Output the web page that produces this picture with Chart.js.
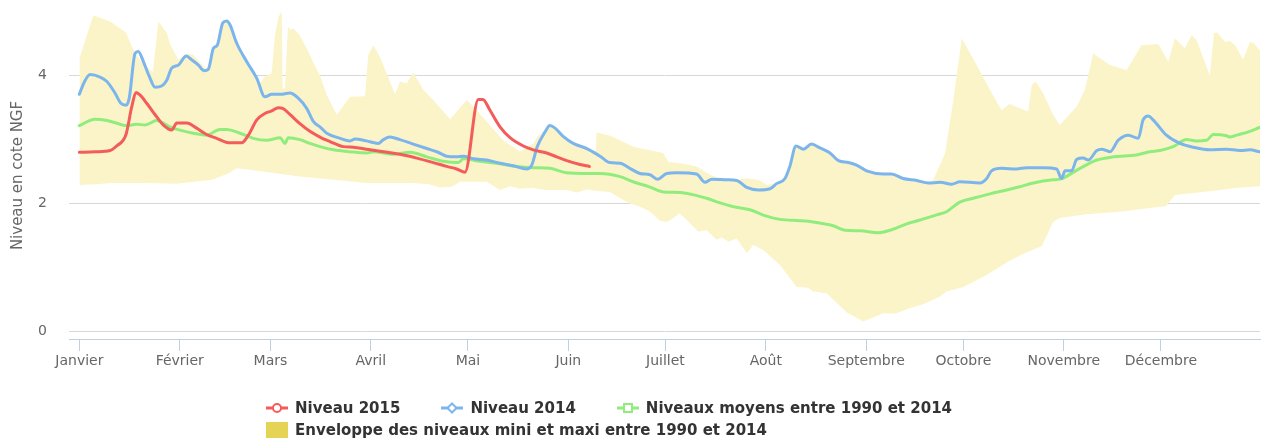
<!DOCTYPE html>
<html><head><meta charset="utf-8">
<script src="https://cdn.jsdelivr.net/npm/chart.js@4"></script>
<style>
html,body{margin:0;padding:0;background:#fff;}
#wrap{position:relative;width:1265px;height:441px;overflow:hidden;}
#c{position:absolute;left:0;top:0;}
#legend{position:absolute;left:266px;top:397px;font-family:"DejaVu Sans",sans-serif;font-weight:bold;font-size:15px;color:#333;}
.row{display:flex;align-items:center;height:22px;white-space:nowrap;}
.item{display:flex;align-items:center;margin-right:41px;}
.item svg{margin-right:7px;display:block;}
</style></head><body>
<div id="wrap"><canvas id="c" width="1265" height="441"></canvas><div id="legend"></div></div>
<script>
// ---- categories / ticks ----
const monthLabels = ['Janvier','Février','Mars','Avril','Mai','Juin','Juillet','Août','Septembre','Octobre','Novembre','Décembre'];
const monthStartDays = [0,31,59,90,120,151,181,212,243,273,304,334];
const yTickValues = [0,2,4];

// ---- Niveau 2015 ----
const days2015 = [0,5,9.5,11.5,14.4,16.2,17.5,18.7,20.8,23.4,25.9,28.5,30.1,33.2,36.2,39.3,42.4,46.5,50.1,52.2,54.8,57.3,59.4,61.4,62.8,65.1,68.1,71.2,74.3,77.4,81.5,84.6,88.7,93.9,99,104.2,109.3,113.4,116.5,119.1,123.2,124.6,126.8,129.9,133,137.1,140.2,144.3,147.4,150.5,154.6,157.5];
const level2015 = [2.80,2.81,2.83,2.90,3.08,3.52,3.74,3.70,3.57,3.39,3.23,3.15,3.26,3.26,3.18,3.08,3.02,2.95,2.95,3.07,3.31,3.41,3.45,3.50,3.49,3.39,3.25,3.13,3.04,2.97,2.89,2.88,2.85,2.81,2.77,2.71,2.64,2.58,2.54,2.49,3.63,3.63,3.46,3.20,3.03,2.90,2.84,2.79,2.73,2.67,2.61,2.58];

// ---- Niveau 2014 ----
const days2014 = [0,1.5,3.3,6.4,8.5,11,12.8,14.4,15.4,17.2,18.2,19.8,21.6,23.4,25.4,27,28.5,30.6,33,34.7,36.7,38.5,39.8,41.4,42.6,44.3,45.5,46.5,48.6,51.7,54.8,57.3,59.4,62,65,67.6,70.2,72.3,74.3,76.4,80.5,83.6,85.1,88.7,92.3,93.9,95.9,99,103.1,107.3,110.4,113.4,116.5,118.6,121.7,125.8,129.9,134,138.1,139.7,141.4,143.8,145.3,146.9,149.4,152.5,156.7,160.8,163.9,167,170,173.1,176.2,178.5,181.4,184.5,190.6,193.2,195.3,199.9,203,206.1,209.7,213.3,215.3,217.9,219.4,221.3,223.6,226.1,228.7,231.8,234.4,237.5,240,243.1,248.3,250.8,254.4,258.6,262.2,265.8,269.4,271.9,278.1,280.2,281.7,284.8,289.4,292.5,297.6,301.8,303.3,304.4,306.4,308,310,311.6,314.2,315.7,318.3,320.8,323.9,327,328.5,330.1,331.6,335.7,339.9,344,349.1,354.3,358.4,361.5,364.4];
const level2014 = [3.71,3.90,4.02,3.98,3.91,3.73,3.57,3.54,3.65,4.35,4.38,4.22,3.99,3.82,3.84,3.93,4.12,4.17,4.31,4.25,4.17,4.08,4.10,4.43,4.48,4.83,4.86,4.80,4.51,4.22,3.96,3.67,3.71,3.71,3.73,3.65,3.49,3.28,3.20,3.10,3.02,2.98,3.01,2.98,2.94,3.00,3.04,3.00,2.93,2.86,2.81,2.74,2.73,2.74,2.70,2.68,2.63,2.59,2.54,2.60,2.89,3.12,3.22,3.18,3.05,2.94,2.86,2.74,2.64,2.63,2.55,2.47,2.45,2.38,2.47,2.48,2.46,2.33,2.38,2.37,2.36,2.25,2.21,2.23,2.31,2.39,2.58,2.90,2.85,2.93,2.87,2.79,2.67,2.64,2.60,2.51,2.46,2.46,2.39,2.36,2.32,2.33,2.30,2.34,2.32,2.39,2.51,2.55,2.54,2.56,2.56,2.54,2.39,2.51,2.51,2.69,2.71,2.68,2.83,2.85,2.81,2.99,3.07,3.02,3.31,3.37,3.31,3.07,2.94,2.88,2.84,2.85,2.83,2.84,2.81];

// ---- Niveaux moyens 1990-2014 ----
const daysMean = [0,4.8,8.5,12.6,14.6,17.7,20.3,23.9,28,31.6,35.2,39.3,43.4,45.5,49.6,53.7,57.9,62,63.5,64.5,68.1,71.2,74.3,78.5,83.6,88.7,90.8,97,102.1,107.3,112.4,117,118.6,123.7,129.9,135,140.2,145.3,150.5,155.6,160.8,167,171,176,180.3,185.5,193.7,197.8,201.9,207.1,212.2,216.4,222.5,226.6,232.8,236.4,241.1,246.7,250.3,255.5,259.6,264.7,267.8,271.9,276,281.2,286.3,290.4,294.6,300.7,302.8,309,314.2,319.3,326.5,330.6,333.7,337.8,341.9,345,348.1,350.2,354.3,355.3,357.4,361.5,364.4];
const levelMean = [3.22,3.32,3.30,3.24,3.22,3.24,3.23,3.30,3.20,3.14,3.10,3.07,3.16,3.16,3.10,3.02,2.99,3.03,2.94,3.03,3.00,2.94,2.89,2.84,2.81,2.79,2.81,2.77,2.80,2.73,2.66,2.64,2.70,2.66,2.62,2.58,2.56,2.55,2.48,2.47,2.47,2.42,2.34,2.26,2.18,2.17,2.08,2.01,1.95,1.90,1.80,1.75,1.73,1.71,1.65,1.58,1.57,1.54,1.58,1.68,1.74,1.82,1.87,2.02,2.08,2.15,2.21,2.26,2.32,2.37,2.38,2.55,2.68,2.73,2.76,2.81,2.83,2.89,3.00,2.98,2.99,3.08,3.06,3.04,3.07,3.13,3.19];

// ---- Enveloppe maxi ----
const daysEnvMax = [0,4.3,9.5,14.4,16.7,19.8,22.7,24.4,27,28,30.6,33.2,35.2,37.3,39.3,41.4,42.6,44.3,45.5,46.5,48.6,51.7,54.8,55.8,57.3,59.4,60.4,61.5,62.5,62.8,63.5,64.4,65.3,66.1,68.1,71.2,72.3,74.3,76.4,79.5,83.6,88.2,89.2,90.8,92.8,97.5,99,101.1,103.1,106.2,109.3,114.5,119.6,121.7,125.8,130.9,136.1,140.2,141.4,143.8,145.3,146.9,149.4,152.5,156.7,159.5,159.7,163.9,167,171.1,180.3,181.9,185.5,190.6,194.7,197.8,203,206.1,209.7,212.3,215.3,217.9,219.4,221.3,223.6,226.1,228.7,231.8,234.4,237.5,240,243.1,248.3,250.8,254.4,258.6,262.2,263.7,267.3,269.9,272.5,277.1,281.2,284.8,287.2,293,294.1,295.4,297.6,300.7,302.8,308,310.5,313.1,318.3,323.4,328,333.2,336.3,338.3,341.4,343.5,345,349.1,350.4,351.4,353.8,355.3,356.9,359.4,361.5,362.5,364.6];
const envMax = [4.27,4.95,4.85,4.68,4.40,4.17,4.06,4.85,4.67,4.50,4.25,4.35,4.33,4.20,4.10,4.43,4.48,4.83,4.86,4.80,4.51,4.22,3.96,3.88,3.99,4.04,4.64,4.93,5.00,3.80,3.80,4.77,4.72,4.74,4.63,4.33,4.20,4.01,3.70,3.39,3.67,3.68,4.33,4.48,4.30,3.71,3.91,3.88,4.05,3.78,3.62,3.32,3.62,3.52,3.28,2.99,2.81,2.94,3.05,3.15,3.23,3.19,3.06,2.95,2.87,2.82,3.11,3.06,2.99,2.89,2.79,2.65,2.63,2.58,2.45,2.39,2.37,2.39,2.37,2.29,2.32,2.40,2.59,2.91,2.86,2.94,2.88,2.80,2.68,2.65,2.61,2.52,2.47,2.47,2.40,2.37,2.33,2.37,2.78,3.62,4.59,4.17,3.78,3.46,3.56,3.44,3.86,3.91,3.73,3.39,3.23,3.52,3.78,4.35,4.17,4.09,4.48,4.50,4.22,4.59,4.43,4.64,4.56,4.01,4.67,4.68,4.53,4.55,4.48,4.26,4.53,4.52,4.40];

// ---- Enveloppe mini ----
const daysEnvMin = [0,5,10,20,30,41,46,48.6,55,68,74.3,78.5,88.7,103,108,111.4,115,117.5,125.8,129.9,133,136,140,144,150.5,153.6,156.7,160.8,163.9,167,170,173.1,176.2,179.3,181.4,182.9,185.3,187.6,191.1,193.7,196.8,198.4,200.4,203,206.1,208.1,211.2,216.4,221.5,225.1,226.6,230.8,237,242.1,248.3,251.9,256.5,260.6,265.8,267.8,273,280.2,286.3,291.5,297.2,300.7,302.8,311,321.3,327.5,335.7,338.3,347,357.4,364.6];
const envMin = [2.29,2.30,2.32,2.32,2.31,2.37,2.47,2.55,2.51,2.42,2.39,2.37,2.32,2.32,2.30,2.25,2.26,2.34,2.34,2.21,2.27,2.23,2.24,2.21,2.21,2.17,2.22,2.19,2.18,2.08,2.00,1.95,1.87,1.73,1.71,1.75,1.84,1.74,1.56,1.58,1.43,1.47,1.40,1.45,1.22,1.35,1.27,1.03,0.69,0.68,0.62,0.59,0.29,0.15,0.28,0.27,0.36,0.42,0.54,0.62,0.69,0.88,1.07,1.21,1.33,1.71,1.77,1.83,1.87,1.91,1.96,2.13,2.18,2.24,2.27];

const seriesNames = ['Niveau 2015','Niveau 2014','Niveaux moyens entre 1990 et 2014','Enveloppe des niveaux mini et maxi entre 1990 et 2014'];
const seriesColors = ['#f45b5b','#7cb5ec','#90ed7d','#e4d354'];

const zip = (xs, ys) => xs.map((x, i) => ({x: x, y: ys[i]}));
const FONT = '"DejaVu Sans", sans-serif';

const lineDs = (name, color, xs, ys) => ({
  label: name, data: zip(xs, ys), borderColor: color, borderWidth: 3,
  pointRadius: 0, fill: false, cubicInterpolationMode: 'monotone', borderJoinStyle: 'round', borderCapStyle: 'round'
});

new Chart(document.getElementById('c'), {
  type: 'line',
  data: {
    datasets: [
      lineDs(seriesNames[0], seriesColors[0], days2015, level2015),
      lineDs(seriesNames[1], seriesColors[1], days2014, level2014),
      lineDs(seriesNames[2], seriesColors[2], daysMean, levelMean),
      { label: 'max', data: zip(daysEnvMax, envMax), borderWidth: 0, borderColor: 'rgba(0,0,0,0)',
        backgroundColor: '#fbf4c9', fill: '+1', pointRadius: 0, tension: 0 },
      { label: 'min', data: zip(daysEnvMin, envMin), borderWidth: 0, borderColor: 'rgba(0,0,0,0)',
        fill: false, pointRadius: 0, tension: 0 }
    ]
  },
  options: {
    responsive: false, animation: false, devicePixelRatio: 1,
    layout: { padding: { top: 12, right: 5, left: 0, bottom: 0 } },
    plugins: { legend: { display: false }, tooltip: { enabled: false } },
    scales: {
      x: {
        type: 'linear', min: -3.2, max: 364.6,
        afterBuildTicks: s => { s.ticks = monthStartDays.map(v => ({ value: v })); },
        afterFit: s => { s.height = 102; s.paddingLeft = 0; s.paddingRight = 0; },
        ticks: { autoSkip: false, maxRotation: 0, minRotation: 0, padding: 2, color: '#666',
          font: { family: FONT, size: 14 },
          callback: v => { const i = monthStartDays.indexOf(v); return i >= 0 ? monthLabels[i] : ''; } },
        grid: { drawOnChartArea: false, drawTicks: true, tickLength: 12, color: '#C0D0E0', lineWidth: 1 },
        border: { display: true, color: '#C0D0E0', width: 1 }
      },
      y: {
        min: -0.125, max: 5,
        afterBuildTicks: s => { s.ticks = yTickValues.map(v => ({ value: v })); },
        afterFit: s => { s.width = 69; s.paddingTop = 0; s.paddingBottom = 0; },
        ticks: { padding: 22, color: '#666', font: { family: FONT, size: 14 }, callback: v => String(v) },
        grid: { color: '#D8D8D8', drawTicks: false, lineWidth: 1 },
        border: { display: false },
        title: { display: true, text: 'Niveau en cote NGF', color: '#666',
          font: { family: FONT, size: 15 }, padding: { top: 9, bottom: 0 } }
      }
    }
  }
});

// ---- legend (HTML) ----
function symbolSvg(i) {
  const c = seriesColors[i];
  if (i === 3) return '<svg width="22" height="16"><rect x="0" y="0" width="22" height="16" fill="' + c + '"/></svg>';
  let m;
  if (i === 0) m = '<circle cx="11" cy="8" r="4" fill="#fff" stroke="' + c + '" stroke-width="2"/>';
  else if (i === 1) m = '<path d="M11 3.5 L15.5 8 L11 12.5 L6.5 8 Z" fill="#fff" stroke="' + c + '" stroke-width="2"/>';
  else m = '<rect x="7" y="4" width="8" height="8" fill="#fff" stroke="' + c + '" stroke-width="2"/>';
  return '<svg width="22" height="16"><line x1="0" y1="8" x2="22" y2="8" stroke="' + c + '" stroke-width="3"/>' + m + '</svg>';
}
const item = i => '<div class="item">' + symbolSvg(i) + '<span>' + seriesNames[i] + '</span></div>';
document.getElementById('legend').innerHTML =
  '<div class="row">' + item(0) + item(1) + item(2) + '</div>' +
  '<div class="row">' + item(3) + '</div>';
</script>
</body></html>
